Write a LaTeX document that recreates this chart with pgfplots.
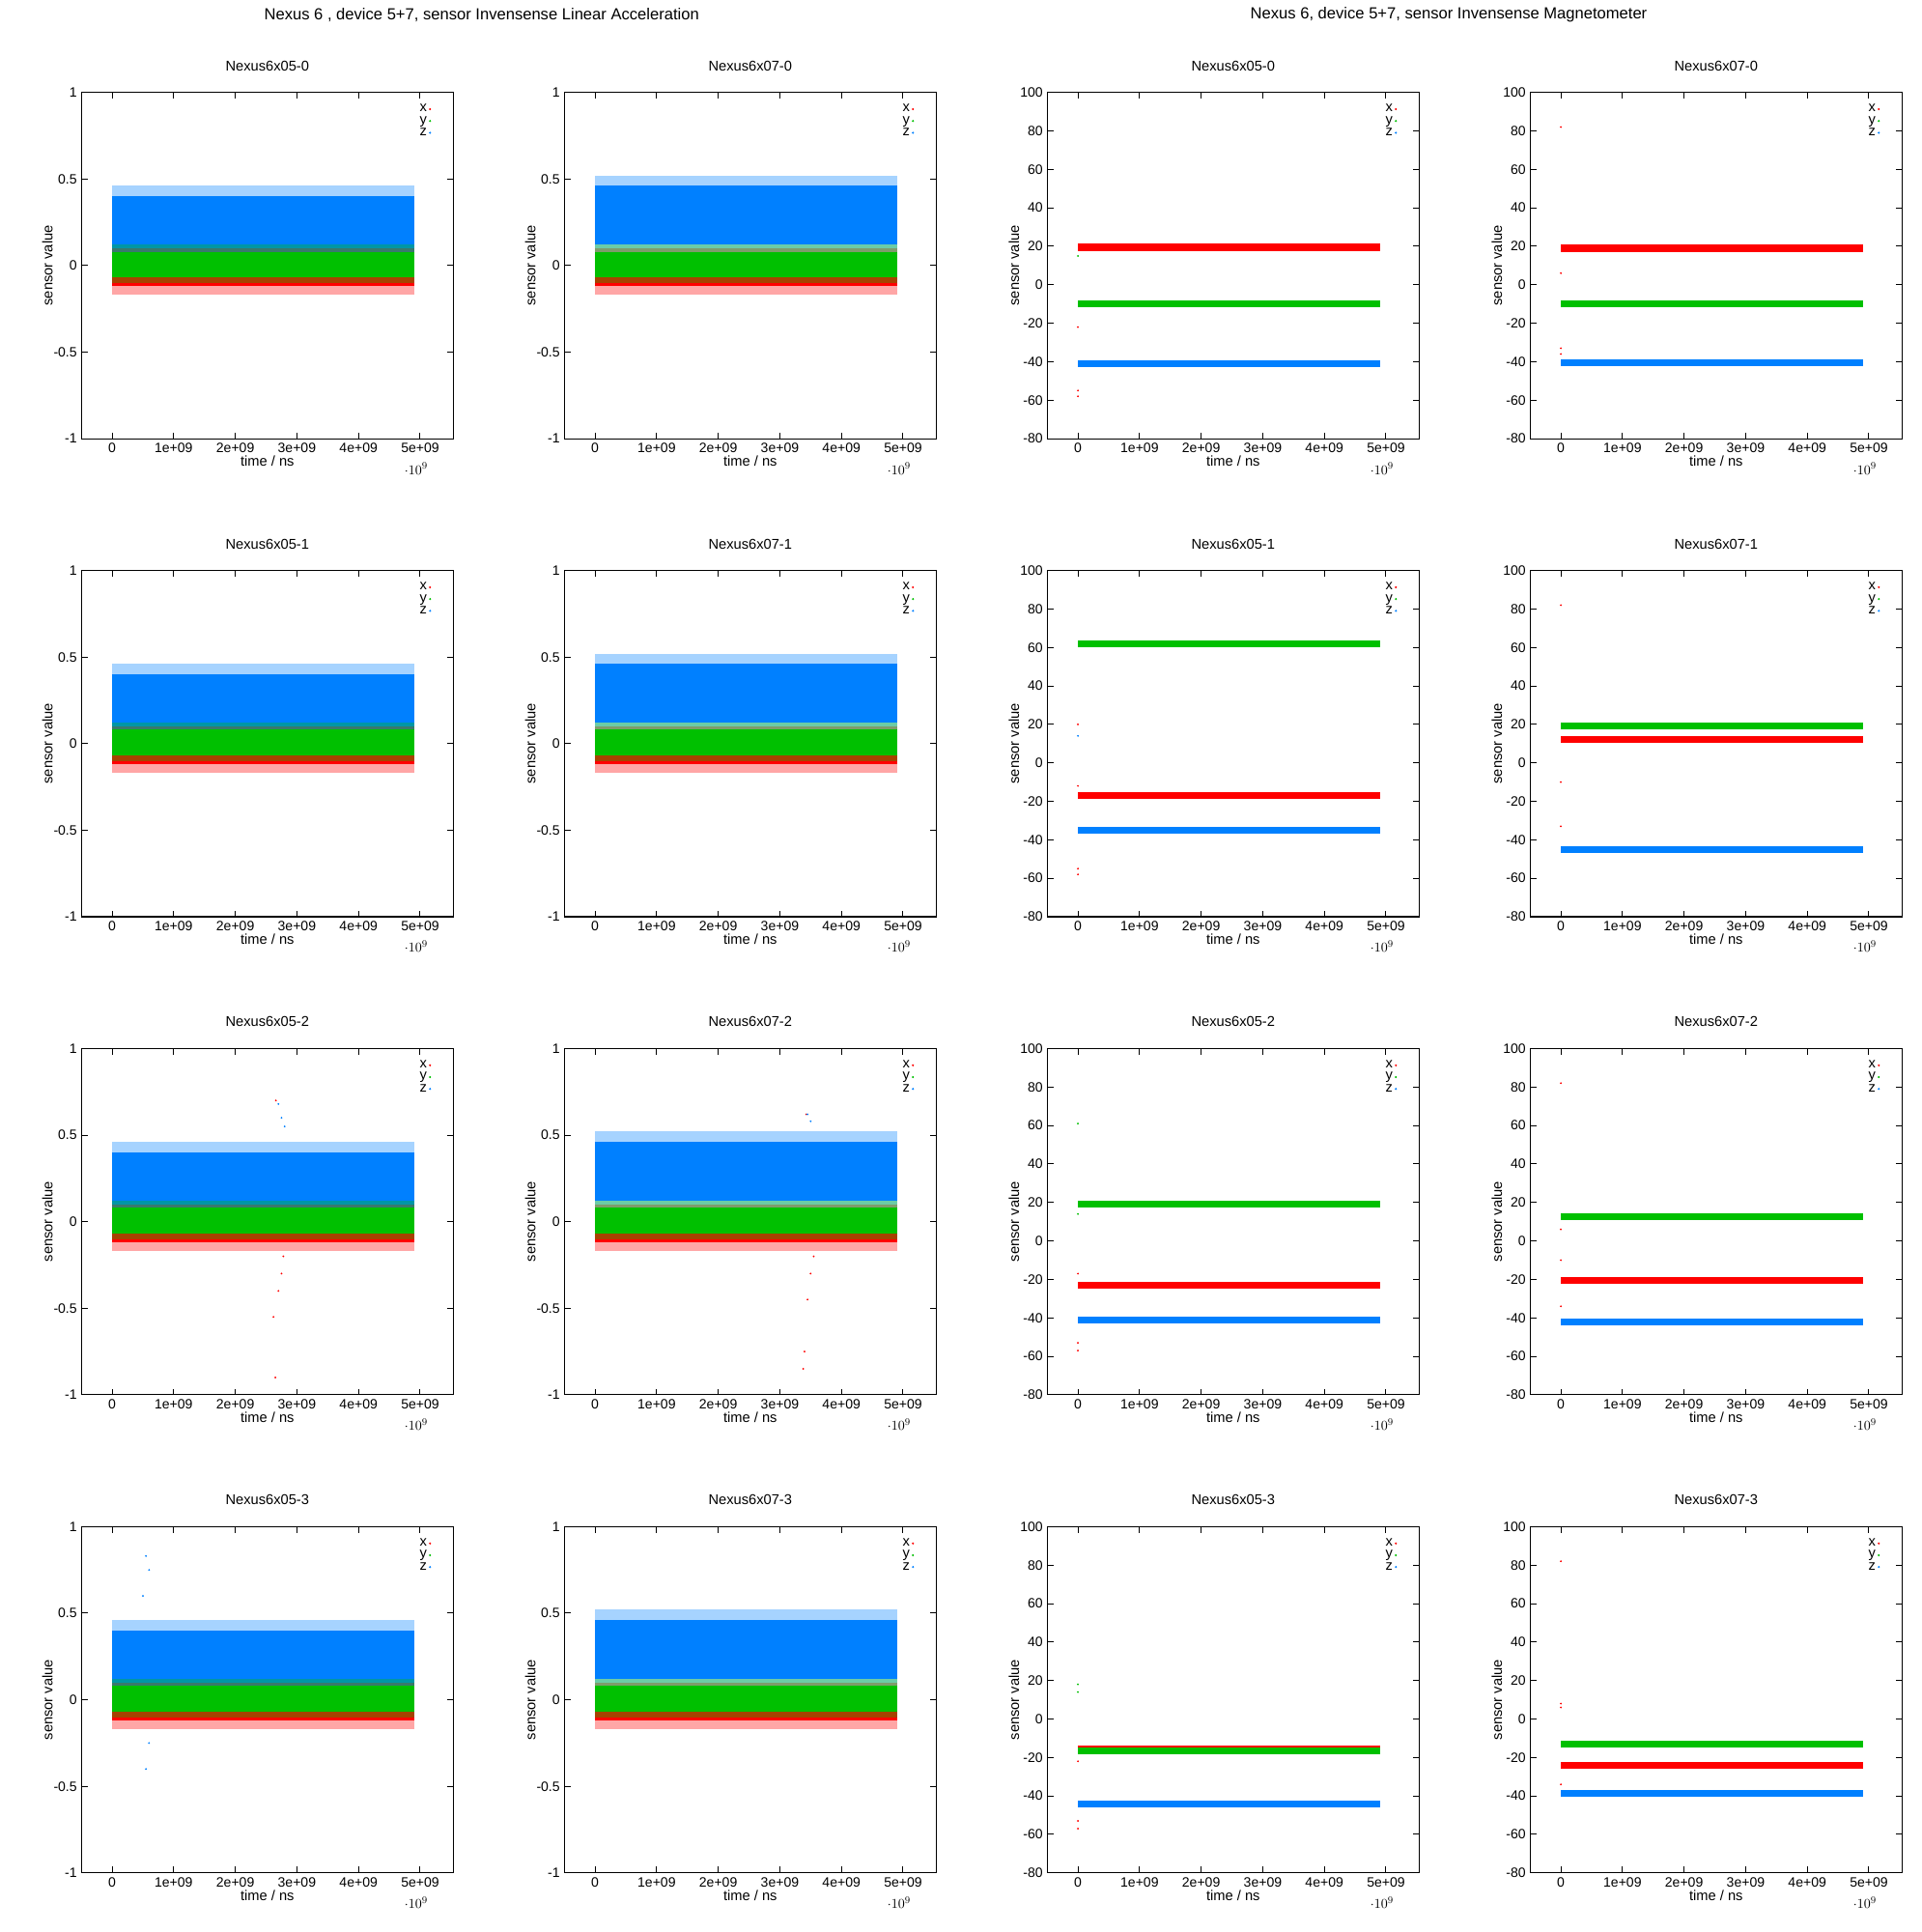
\documentclass[border=0pt]{standalone}
\usepackage{pgfplots}
\pgfplotsset{compat=1.18}
\usepackage{fontspec}
\setmainfont{Liberation Sans}
\definecolor{xr}{HTML}{FF0000}
\definecolor{yg}{HTML}{00C000}
\definecolor{zb}{HTML}{0080FF}
\pgfplotsset{
 base/.style={scale only axis,width=302pt,height=281pt,anchor=north west,
  xmin=-0.5e9,xmax=5.54e9,xtick={0,1e9,2e9,3e9,4e9,5e9},
  xticklabels={0,1e+09,2e+09,3e+09,4e+09,5e+09},
  tick align=inside,major tick length=5pt,axis line style={line width=0.8pt},
  tick style={line width=0.8pt,black},
  ticklabel style={font=\fontsize{11}{13}\selectfont},
  label style={font=\fontsize{11.5}{13}\selectfont},
  title style={font=\fontsize{11.5}{13}\selectfont,yshift=8pt},
  xlabel={time / ns},ylabel={sensor value},
  xlabel style={yshift=4pt},ylabel style={yshift=-6pt},
  legend style={draw=none,fill=none,at={(0.95,0.98)},anchor=north east,
   font=\fontsize{11.5}{13}\selectfont,row sep=-2pt},
  legend plot pos=right,legend cell align=right},
 acc/.style={base,ymin=-1,ymax=1,ytick={-1,-0.5,0,0.5,1},yticklabels={-1,-0.5,0,0.5,1}},
 mag/.style={base,ymin=-80,ymax=100,ytick={-80,-60,...,100},
  yticklabels={-80,-60,-40,-20,0,20,40,60,80,100}}
}
\newcommand{\band}[4]{\addplot[fill=#1,draw=none,fill opacity=#4,forget plot] coordinates {(0,#2)(4.9e9,#2)(4.9e9,#3)(0,#3)} --cycle;}
\newcommand{\leg}{\addlegendimage{only marks,mark=*,mark size=0.6pt,xr}\addlegendentry{x}
\addlegendimage{only marks,mark=*,mark size=0.6pt,yg}\addlegendentry{y}
\addlegendimage{only marks,mark=*,mark size=0.6pt,zb}\addlegendentry{z}}
\newcommand{\pts}[2]{\addplot[only marks,mark=*,mark size=0.5pt,#1,forget plot] coordinates {#2};}
\newcommand{\accbands}[2]{% blue center lo hi
 \band{zb}{#1}{#2}{0.35}
 \pgfmathsetmacro{\a}{#1+0.06}\pgfmathsetmacro{\b}{#2-0.06}
 \band{zb}{\a}{\b}{1}
 \band{xr}{-0.17}{0.1}{0.35}
 \band{xr}{-0.12}{0.06}{1}
 \band{yg}{-0.1}{0.12}{0.35}
 \band{yg}{-0.07}{0.08}{1}}
\newcommand{\magband}[2]{\band{#1}{#2-1.8}{#2+1.8}{1}}
\newcommand{\panel}[5]{\begin{axis}[#3,at={(66pt+392pt*#1,-75pt-388pt*#2)},title={#4}]
\leg
#5
\end{axis}}
\begin{document}
\begin{tikzpicture}
\useasboundingbox (0,0) rectangle (1560pt,-1568pt);
\node[font=\fontsize{13}{15}\selectfont] at (391pt,-12pt) {Nexus 6 , device 5+7, sensor Invensense Linear Acceleration};
\node[font=\fontsize{13}{15}\selectfont] at (1176pt,-12pt) {Nexus 6, device 5+7, sensor Invensense Magnetometer};
% accel
\panel{0}{0}{acc}{Nexus6x05-0}{\accbands{0.02}{0.46}}
\panel{1}{0}{acc}{Nexus6x07-0}{\accbands{0.06}{0.52}}
\panel{0}{1}{acc}{Nexus6x05-1}{\accbands{0.02}{0.46}}
\panel{1}{1}{acc}{Nexus6x07-1}{\accbands{0.06}{0.52}}
\panel{0}{2}{acc}{Nexus6x05-2}{\accbands{0.02}{0.46}
 \pts{xr}{(2.65e9,-0.9)(2.62e9,-0.55)(2.7e9,-0.4)(2.75e9,-0.3)(2.78e9,-0.2)(2.66e9,0.7)}
 \pts{zb}{(2.7e9,0.68)(2.75e9,0.6)(2.8e9,0.55)}}
\panel{1}{2}{acc}{Nexus6x07-2}{\accbands{0.06}{0.52}
 \pts{xr}{(3.38e9,-0.85)(3.4e9,-0.75)(3.45e9,-0.45)(3.5e9,-0.3)(3.55e9,-0.2)(3.43e9,0.62)}
 \pts{zb}{(3.45e9,0.62)(3.5e9,0.58)}}
\panel{0}{3}{acc}{Nexus6x05-3}{\accbands{0.02}{0.46}
 \pts{zb}{(0.55e9,0.83)(0.6e9,0.75)(0.5e9,0.6)(0.55e9,-0.4)(0.6e9,-0.25)}}
\panel{1}{3}{acc}{Nexus6x07-3}{\accbands{0.06}{0.52}}
% mag
\panel{2}{0}{mag}{Nexus6x05-0}{\magband{xr}{19.5}\magband{yg}{-10}\magband{zb}{-41}
 \pts{xr}{(0,-55)(0,-58)(0,-22)}\pts{yg}{(0,15)}}
\panel{3}{0}{mag}{Nexus6x07-0}{\magband{xr}{19}\magband{yg}{-10}\magband{zb}{-40.5}
 \pts{xr}{(0,82)(0,6)(0,-33)(0,-36)}}
\panel{2}{1}{mag}{Nexus6x05-1}{\magband{yg}{62}\magband{xr}{-17}\magband{zb}{-35}
 \pts{xr}{(0,-55)(0,-58)(0,20)(0,-12)}\pts{zb}{(0,14)}}
\panel{3}{1}{mag}{Nexus6x07-1}{\magband{yg}{19}\magband{xr}{12}\magband{zb}{-45}
 \pts{xr}{(0,82)(0,-10)(0,-33)}}
\panel{2}{2}{mag}{Nexus6x05-2}{\magband{yg}{19}\magband{xr}{-23}\magband{zb}{-41}
 \pts{xr}{(0,-53)(0,-57)(0,-17)}\pts{yg}{(0,61)(0,14)}}
\panel{3}{2}{mag}{Nexus6x07-2}{\magband{yg}{12.5}\magband{xr}{-20.5}\magband{zb}{-42}
 \pts{xr}{(0,82)(0,6)(0,-34)(0,-10)}}
\panel{2}{3}{mag}{Nexus6x05-3}{\magband{xr}{-15.5}\magband{yg}{-16.5}\magband{zb}{-44}
 \pts{xr}{(0,-53)(0,-57)(0,-22)}\pts{yg}{(0,18)(0,14)}}
\panel{3}{3}{mag}{Nexus6x07-3}{\magband{yg}{-13}\magband{xr}{-24}\magband{zb}{-38.5}
 \pts{xr}{(0,82)(0,8)(0,6)(0,-34)}}
\end{tikzpicture}
\end{document}
